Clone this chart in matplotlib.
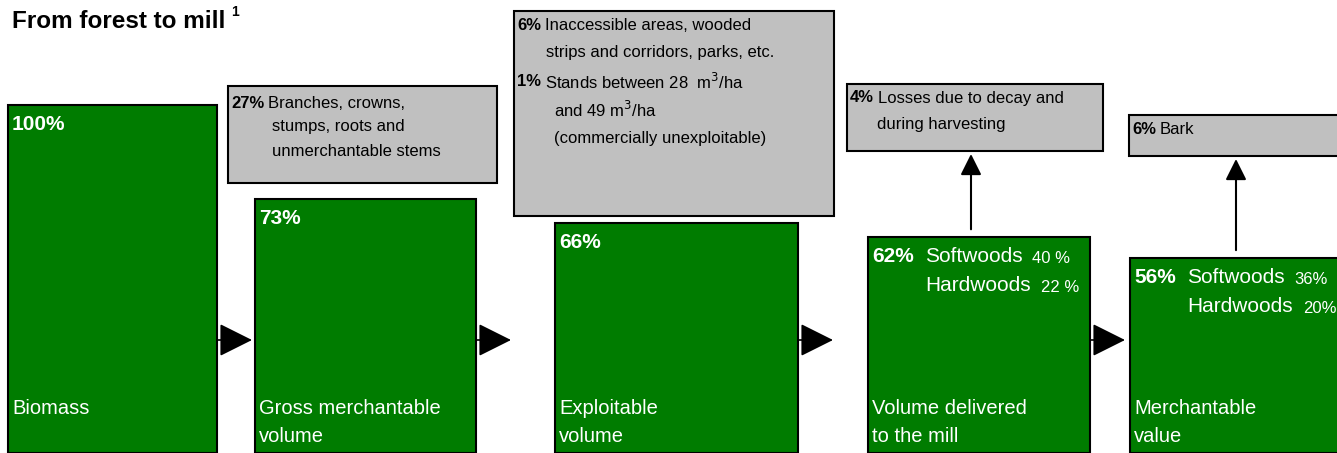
import matplotlib.pyplot as plt
from matplotlib.patches import Rectangle

plt.rcParams['font.family'] = ['Liberation Sans', 'DejaVu Sans']

# données
stages = ['Biomass', 'Gross merchantable\nvolume', 'Exploitable\nvolume',
          'Volume delivered\nto the mill', 'Merchantable\nvalue']
shares = [100, 73, 66, 62, 56]
softwoods = [None, None, None, '40 %', '36%']
hardwoods = [None, None, None, '22 %', '20%']
loss_lines = [
    [('27%', 'Branches, crowns,'), ('', 'stumps, roots and'), ('', 'unmerchantable stems')],
    [('6%', 'Inaccessible areas, wooded'), ('', 'strips and corridors, parks, etc.'),
     ('1%', 'Stands between 28  m$^3$/ha'), ('', 'and 49 m$^3$/ha'),
     ('', '(commercially unexploitable)')],
    [('4%', 'Losses due to decay and'), ('', 'during harvesting')],
    [('6%', 'Bark')],
]

W, H = 1337, 453
fig = plt.figure(figsize=(W / 100, H / 100), dpi=100)

# axe des barres (en %), le bas de l'image = 0 %
axb = fig.add_axes([0, 0, 1, 1])
axb.set_xlim(0, W)
axb.set_ylim(0, 130.2)
axb.axis('off')

# axe en pixels pour les boites et le texte
ax = fig.add_axes([0, 0, 1, 1])
ax.set_xlim(0, W)
ax.set_ylim(H, 0)
ax.axis('off')
ax.patch.set_alpha(0)

bar_left = [8, 255, 555, 868, 1130]
bar_width = [209, 221, 243, 222, 222]
green = '#007C00'

axb.bar(bar_left, shares, width=bar_width, align='edge', bottom=0,
        color=green, edgecolor='black', linewidth=1.5, zorder=3)

px_per_pct = H / 130.2
fig.canvas.draw()
renderer = fig.canvas.get_renderer()

for i, (name, v) in enumerate(zip(stages, shares)):
    x0 = bar_left[i] + 4
    ytop = H - v * px_per_pct
    ax.text(x0, ytop + 19, f'{v}%', color='white', fontsize=15, fontweight='bold',
            va='center', ha='left')
    l1, *l2 = name.split('\n')
    ax.text(x0, 408, l1, color='white', fontsize=14.5, va='center', ha='left')
    if l2:
        ax.text(x0, 437, l2[0], color='white', fontsize=14.5, va='center', ha='left')
    if softwoods[i]:
        ax.text(x0 + 53, ytop + 19, 'Softwoods', color='white', fontsize=15, va='center')
        ax.text(x0 + 53, ytop + 48, 'Hardwoods', color='white', fontsize=15, va='center')
        ax.text(x0 + 160, ytop + 21, softwoods[i], color='white', fontsize=12, va='center')
        ax.text(x0 + 169, ytop + 50, hardwoods[i], color='white', fontsize=12, va='center')

# flèches horizontales (la tige passe sous la barre de gauche)
for i in range(4):
    right = bar_left[i] + bar_width[i]
    axb.annotate('', xy=(right + 35, 340), xytext=(right - 12, 340),
                 xycoords=ax.transData, textcoords=ax.transData,
                 arrowprops=dict(arrowstyle='-|>', mutation_scale=52, lw=1.2,
                                 color='black', shrinkA=0, shrinkB=0), zorder=1)

# boites grises
boxes = [(228, 86, 269, 97), (514, 11, 320, 205), (847, 84, 256, 67), (1129, 115, 230, 41)]
line_y = [[103, 127, 152], [25, 52, 82, 110, 138], [98, 124], [130]]
indent = [[0, 41, 41], [0, 29, 0, 37, 37], [0, 27], [0]]
for (bx, by, bw, bh), lines, ys, ind in zip(boxes, loss_lines, line_y, indent):
    ax.add_patch(Rectangle((bx, by), bw, bh, facecolor='#C0C0C0', edgecolor='black',
                           linewidth=1.5, zorder=2))
    for (pct, txt), y, dx in zip(lines, ys, ind):
        x = bx + 3 + dx
        if pct:
            t = ax.text(x, y, pct, fontsize=12, fontweight='bold', va='center', zorder=4)
            bb = t.get_window_extent(renderer)
            ax.text(x + bb.width + 4, y, txt, fontsize=12, va='center', zorder=4)
        else:
            ax.text(x, y, txt, fontsize=12, va='center', zorder=4)

# flèches verticales vers les pertes
for i, box_i, xa in [(3, 2, 971), (4, 3, 1236)]:
    ytop = H - shares[i] * px_per_pct
    bx, by, bw, bh = boxes[box_i]
    ax.annotate('', xy=(xa, by + bh + 3), xytext=(xa, ytop - 8),
                arrowprops=dict(arrowstyle='-|>', mutation_scale=32, lw=1.5,
                                color='black', shrinkA=0, shrinkB=0))

t = ax.text(12, 22, 'From forest to mill', fontsize=17.5, fontweight='bold', va='center')
bb = t.get_window_extent(renderer)
ax.text(12 + bb.width + 6, 12, '1', fontsize=10, fontweight='bold', va='center')

fig.savefig('out.png', dpi=100)
